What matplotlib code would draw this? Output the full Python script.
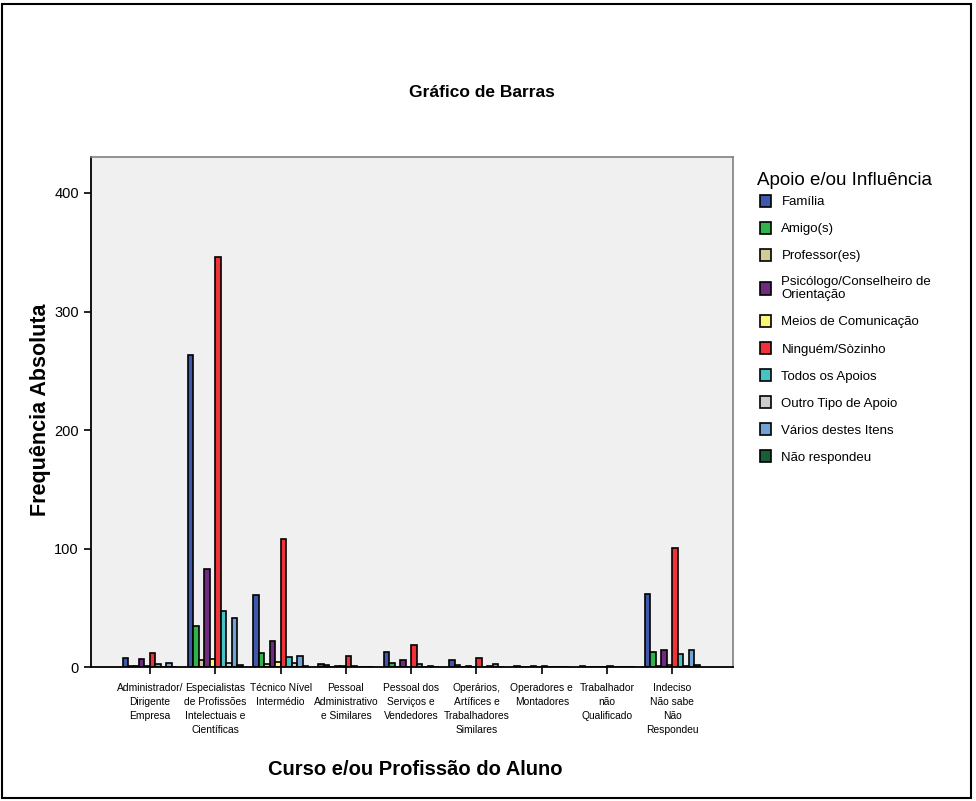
import matplotlib
matplotlib.use('Agg')
import matplotlib.pyplot as plt
import matplotlib.patches as mpatches
import numpy as np

plt.rcParams['font.family'] = ['Liberation Sans', 'DejaVu Sans']

# categorias (eixo x)
categorias = [
    "Administrador/\nDirigente\nEmpresa",
    "Especialistas\nde Profissões\nIntelectuais e\nCientíficas",
    "Técnico Nível\nIntermédio",
    "Pessoal\nAdministrativo\ne Similares",
    "Pessoal dos\nServiços e\nVendedores",
    "Operários,\nArtífices e\nTrabalhadores\nSimilares",
    "Operadores e\nMontadores",
    "Trabalhador\nnão\nQualificado",
    "Indeciso\nNão sabe\nNão\nRespondeu",
]

# séries (apoio e/ou influência)
apoios = [
    "Família", "Amigo(s)", "Professor(es)", "Psicólogo/Conselheiro de\nOrientação",
    "Meios de Comunicação", "Ninguém/Sòzinho", "Todos os Apoios",
    "Outro Tipo de Apoio", "Vários destes Itens", "Não respondeu",
]
cores = ['#3E58AC', '#2FB34A', '#D4CC96', '#702A80', '#FBF873',
         '#EF3338', '#48C2C5', '#CCCCCC', '#72A3D6', '#195F36']

familia    = [8, 263, 61, 3, 13, 6, 1, 1, 62]
amigos     = [1, 35, 12, 2, 4, 2, 0, 0, 13]
professor  = [1, 6, 3, 0, 0, 0, 0, 0, 1]
psicologo  = [7, 83, 22, 1, 6, 1, 1, 0, 15]
meios      = [1, 7, 5, 1, 0, 0, 0, 0, 2]
ninguem    = [12, 346, 108, 10, 19, 8, 1, 1, 101]
todos      = [3, 48, 9, 1, 3, 0, 0, 0, 11]
outro      = [0, 4, 4, 0, 0, 1, 0, 0, 1]
varios     = [4, 42, 10, 0, 1, 3, 0, 0, 15]
nao_resp   = [0, 2, 1, 0, 0, 0, 0, 0, 2]

series = [familia, amigos, professor, psicologo, meios,
          ninguem, todos, outro, varios, nao_resp]

fig = plt.figure(figsize=(9.76, 8.01), dpi=100)
ax = fig.add_axes([0.0929, 0.1667, 0.6578, 0.6369])
ax.set_facecolor('#F0F0F0')

x = np.arange(len(categorias))
w = 0.084
for i, (vals, cor, nome) in enumerate(zip(series, cores, apoios)):
    pos = x - 5 * w + (i + 0.5) * w
    ax.bar(pos, vals, width=w, color=cor, edgecolor='black', linewidth=1.2,
           label=nome)

ax.set_xlim(-0.908, 8.923)
ax.set_ylim(0, 430)
ax.set_yticks([0, 100, 200, 300, 400])
ax.tick_params(axis='y', direction='out', length=5, width=1.2, labelsize=10.5)
ax.set_xticks(x)
ax.set_xticklabels(categorias, fontsize=7.4, linespacing=1.5)
ax.tick_params(axis='x', direction='out', length=5, width=1.2, pad=6)

for s in ['top', 'right']:
    ax.spines[s].set_color('#808080')
    ax.spines[s].set_linewidth(1.2)
for s in ['left', 'bottom']:
    ax.spines[s].set_color('black')
    ax.spines[s].set_linewidth(1.3)

fig.text(0.494, 0.884, "Gráfico de Barras", ha='center', va='center',
         fontsize=12.5, fontweight='bold')
fig.text(0.425, 0.039, "Curso e/ou Profissão do Aluno", ha='center',
         va='center', fontsize=14.5, fontweight='bold')
fig.text(0.041, 0.488, "Frequência Absoluta", ha='center', va='center',
         rotation=90, fontsize=15.5, fontweight='bold')

# legenda: título à parte para controlar o espaçamento
fig.text(0.7756, 0.775, "Apoio e/ou Influência", ha='left', va='center',
         fontsize=13.5)
leg = ax.legend(loc='upper left', bbox_to_anchor=(0.779, 0.757),
                bbox_transform=fig.transFigure, frameon=False,
                borderpad=0, borderaxespad=0,
                fontsize=9.5, handlelength=0.8, handleheight=1.1,
                handletextpad=0.8, labelspacing=1.0)

# moldura exterior
fig.patches.append(mpatches.Rectangle((0.002, 0.004), 0.993, 0.991,
                                      transform=fig.transFigure, fill=False,
                                      edgecolor='black', linewidth=1.5))

fig.savefig('out.png', dpi=100)
